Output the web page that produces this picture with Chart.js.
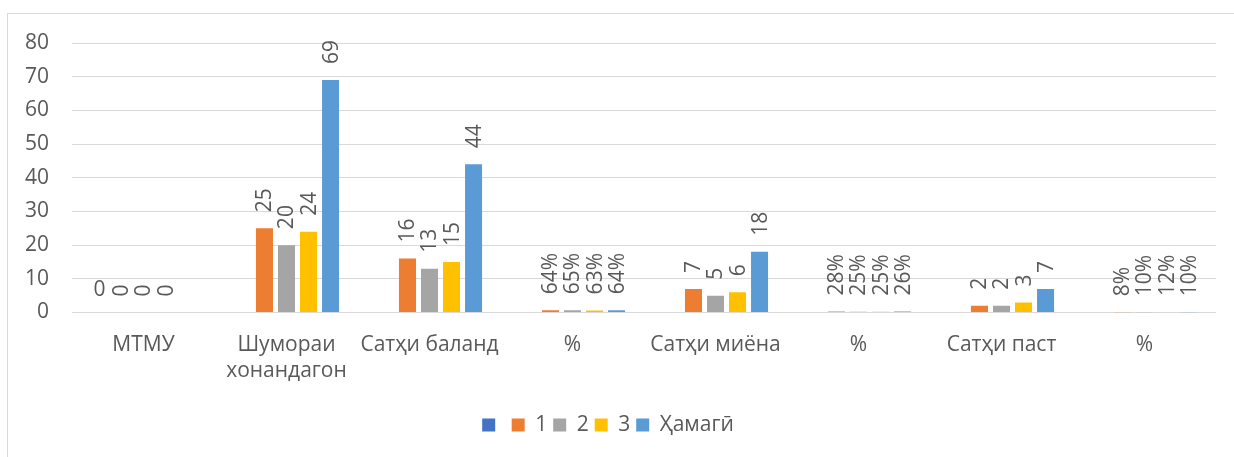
<!DOCTYPE html>
<html>
<head>
<meta charset="utf-8">
<script src="https://cdn.jsdelivr.net/npm/chart.js@4/dist/chart.umd.min.js"></script>
<style>
    html, body { margin: 0; padding: 0; background: #fff; overflow: hidden; }
    #wrap { position: relative; width: 1234px; height: 457px; }
    #frame { position: absolute; left: 7px; top: 13px; width: 1300px; height: 500px; border: 1px solid #d9d9d9; }
    #chart { position: absolute; left: 0; top: 0; }
</style>
</head>
<body>
<div id="wrap">
    <div id="frame"></div>
    <canvas id="chart" width="1234" height="457"></canvas>
</div>
<script>
// categories on the x axis
const categories = ['МТМУ', ['Шумораи', 'хонандагон'], 'Сатҳи баланд', '%', 'Сатҳи миёна', '%', 'Сатҳи паст', '%']
const seriesNames = ['', '1', '2', '3', 'Ҳамагӣ']
const seriesColors = ['#4472C4', '#ED7D31', '#A5A5A5', '#FFC000', '#5B9BD5']

// values (% rows kept as fractions)
const blankValues = [0, null, null, null, null, null, null, null]
const values1 = [0, 25, 16, 0.64, 7, 0.28, 2, 0.08]
const values2 = [0, 20, 13, 0.65, 5, 0.25, 2, 0.10]
const values3 = [0, 24, 15, 0.63, 6, 0.25, 3, 0.12]
const totalValues = [null, 69, 44, 0.64, 18, 0.26, 7, 0.10]

const yMin = 0
const yMax = 80
const yStep = 10

const fontFamily = "'Open Sans', 'Noto Sans', sans-serif"
const textColor = '#595959'
const gridColor = '#d9d9d9'

let allValues = [blankValues, values1, values2, values3, totalValues]

let datasets = allValues.map(function (vals, i) {
    return {
        label: seriesNames[i],
        data: vals,
        backgroundColor: seriesColors[i],
        borderWidth: 0,
        barPercentage: 0.773,
        categoryPercentage: 0.77
    }
})

function labelText(value, index) {
    if (categories[index] === '%') {
        return Math.round(value * 100) + '%'
    }
    return String(value)
}

// value labels above the bars, rotated like in the sheet
const valueLabels = {
    id: 'valueLabels',
    afterDatasetsDraw(chart) {
        let ctx = chart.ctx
        ctx.save()
        ctx.font = '21px ' + fontFamily
        ctx.fillStyle = textColor
        chart.data.datasets.forEach(function (ds, i) {
            let meta = chart.getDatasetMeta(i)
            meta.data.forEach(function (bar, j) {
                let v = ds.data[j]
                if (v === null || v === undefined) return
                let txt = labelText(v, j)
                if (i === 0) {
                    ctx.textAlign = 'center'
                    ctx.textBaseline = 'alphabetic'
                    ctx.fillText(txt, bar.x, bar.y - 17)
                } else {
                    ctx.save()
                    ctx.translate(bar.x, bar.y - 16)
                    ctx.rotate(-Math.PI / 2)
                    ctx.textAlign = 'left'
                    ctx.textBaseline = 'middle'
                    ctx.fillText(txt, 0, 1)
                    ctx.restore()
                }
            })
        })
        ctx.restore()
    }
}

let ctx = document.getElementById('chart').getContext('2d')
let myChart = new Chart(ctx, {
    type: 'bar',
    data: {
        labels: categories,
        datasets: datasets
    },
    plugins: [valueLabels],
    options: {
        responsive: false,
        animation: false,
        devicePixelRatio: 1,
        layout: {
            padding: { left: 0, right: 18, top: 43, bottom: 11.5 }
        },
        scales: {
            x: {
                grid: { display: false },
                border: { display: false },
                ticks: {
                    color: textColor,
                    font: { family: fontFamily, size: 21, lineHeight: 1.25 },
                    maxRotation: 0,
                    autoSkip: false,
                    padding: 11.5
                },
                afterFit: function (scale) { scale.height = 96 }
            },
            y: {
                min: yMin,
                max: yMax,
                grid: { color: gridColor, lineWidth: 1, drawTicks: false },
                border: { display: false },
                ticks: {
                    stepSize: yStep,
                    color: textColor,
                    font: { family: fontFamily, size: 21 },
                    padding: 23
                },
                afterFit: function (scale) { scale.width = 72 }
            }
        },
        plugins: {
            legend: {
                display: true,
                position: 'bottom',
                labels: {
                    boxWidth: 13,
                    boxHeight: 13,
                    padding: 6,
                    color: textColor,
                    font: { family: fontFamily, size: 21 }
                }
            },
            tooltip: { enabled: false }
        }
    }
})
</script>
</body>
</html>
